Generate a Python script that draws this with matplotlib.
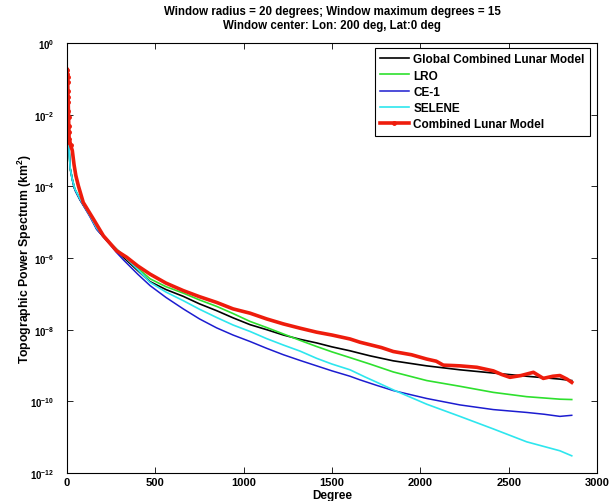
import matplotlib
matplotlib.use("Agg")
import matplotlib.pyplot as plt
import numpy as np

plt.rcParams['font.family'] = ['Liberation Sans', 'DejaVu Sans']
plt.rcParams['mathtext.fontset'] = 'custom'
plt.rcParams['mathtext.rm'] = 'Liberation Sans:bold'
plt.rcParams['mathtext.bf'] = 'Liberation Sans:bold'

# values, log10 of the power spectrum (km^2)
deg_combined = [1, 2, 3, 4, 5, 6, 7, 8, 9, 10, 11, 12, 13, 20, 30, 40, 50, 64, 92,
                149, 206, 281, 338, 400, 470, 560, 658, 750, 847, 940, 1036, 1130,
                1225, 1320, 1413, 1500, 1602, 1658, 1715, 1780, 1847, 1950, 2036,
                2090, 2130, 2180, 2224, 2320, 2413, 2460, 2507, 2570, 2640, 2696,
                2750, 2790, 2830, 2857]
log_combined = [-0.74, -0.87, -0.96, -1.10, -1.33, -1.52, -1.66, -1.89, -2.07, -2.31,
                -2.49, -2.68, -2.77, -2.85, -3.00, -3.40, -3.70, -3.98, -4.45, -4.91,
                -5.38, -5.80, -5.98, -6.22, -6.45, -6.70, -6.91, -7.08, -7.24, -7.42,
                -7.54, -7.70, -7.84, -7.96, -8.07, -8.15, -8.26, -8.35, -8.42, -8.50,
                -8.61, -8.70, -8.82, -8.88, -8.99, -9.00, -9.01, -9.05, -9.15, -9.25,
                -9.33, -9.28, -9.19, -9.36, -9.30, -9.28, -9.38, -9.47]

deg_global = [2, 5, 10, 18, 30, 40, 50, 74, 130, 168, 243, 319, 400, 470, 560, 658,
              750, 847, 940, 1036, 1130, 1225, 1320, 1413, 1500, 1602, 1658, 1715,
              1847, 2036, 2224, 2413, 2602, 2790, 2857]
log_global = [-1.20, -2.00, -2.80, -3.50, -3.80, -4.03, -4.15, -4.38, -4.82, -5.19,
              -5.61, -5.98, -6.35, -6.66, -6.88, -7.07, -7.28, -7.47, -7.67, -7.86,
              -8.00, -8.15, -8.27, -8.37, -8.48, -8.59, -8.66, -8.73, -8.87, -9.01,
              -9.12, -9.21, -9.30, -9.38, -9.42]

deg_lro = [2, 5, 10, 18, 30, 45, 74, 130, 168, 243, 319, 400, 470, 560, 658, 750,
           847, 940, 1036, 1130, 1225, 1320, 1413, 1500, 1602, 1715, 1847, 2036,
           2224, 2413, 2602, 2790, 2857]
log_lro = [-1.40, -2.10, -2.85, -3.50, -3.80, -4.08, -4.35, -4.80, -5.15, -5.58,
           -5.93, -6.28, -6.58, -6.80, -6.98, -7.17, -7.35, -7.55, -7.77, -7.94,
           -8.12, -8.30, -8.47, -8.62, -8.78, -8.96, -9.18, -9.42, -9.58, -9.75,
           -9.87, -9.94, -9.95]

deg_ce1 = [2, 5, 10, 18, 30, 45, 74, 130, 168, 243, 281, 319, 400, 470, 560, 658,
           750, 847, 940, 1036, 1130, 1225, 1320, 1413, 1500, 1602, 1658, 1750,
           1847, 2036, 2224, 2413, 2602, 2700, 2790, 2857]
log_ce1 = [-1.40, -2.10, -2.85, -3.50, -3.82, -4.10, -4.38, -4.85, -5.20, -5.62,
           -5.85, -6.05, -6.45, -6.77, -7.10, -7.42, -7.70, -7.95, -8.15, -8.33,
           -8.52, -8.70, -8.86, -9.01, -9.15, -9.30, -9.40, -9.55, -9.70, -9.92,
           -10.10, -10.23, -10.31, -10.36, -10.42, -10.39]

deg_selene = [2, 5, 10, 18, 30, 45, 74, 130, 168, 243, 319, 400, 470, 560, 658, 750,
              847, 940, 1036, 1130, 1225, 1320, 1413, 1500, 1602, 1687, 1750, 1847,
              2036, 2224, 2413, 2602, 2790, 2857]
log_selene = [-1.40, -2.10, -2.85, -3.50, -3.81, -4.08, -4.36, -4.82, -5.17, -5.58,
              -5.93, -6.32, -6.68, -6.95, -7.19, -7.43, -7.66, -7.87, -8.05, -8.25,
              -8.43, -8.60, -8.80, -8.96, -9.12, -9.32, -9.46, -9.68, -10.08, -10.42,
              -10.77, -11.13, -11.38, -11.52]

x_ticks = [0, 500, 1000, 1500, 2000, 2500, 3000]
y_exps = [0, -2, -4, -6, -8, -10, -12]


def main():
    fig = plt.figure(figsize=(6.16, 5.02), dpi=100)
    ax = fig.add_axes([67 / 616, 28 / 502, 530 / 616, 430 / 502])

    ax.plot(deg_global, 10.0 ** np.array(log_global), color='k', lw=1.2,
            label='Global Combined Lunar Model')
    ax.plot(deg_lro, 10.0 ** np.array(log_lro), color='#2ee02e', lw=1.2, label='LRO')
    ax.plot(deg_ce1, 10.0 ** np.array(log_ce1), color='#1c1cd0', lw=1.1, label='CE-1')
    ax.plot(deg_selene, 10.0 ** np.array(log_selene), color='#2ee6ee', lw=1.2,
            label='SELENE')
    ax.plot(deg_combined, 10.0 ** np.array(log_combined), color='#ee1c0c', lw=2.6,
            marker='.', ms=5, markevery=list(range(14)), label='Combined Lunar Model')

    ax.set_yscale('log')
    ax.set_xlim(0, 3000)
    ax.set_ylim(1e-12, 1e0)
    ax.set_xticks(x_ticks)
    ax.set_xticklabels([str(t) for t in x_ticks], fontweight='bold', fontsize=8)
    ax.set_yticks([10.0 ** e for e in y_exps])
    ax.set_yticklabels(['$10^{%d}$' % e for e in y_exps], fontsize=7)
    ax.minorticks_off()
    ax.tick_params(direction='in', length=4, width=0.6, top=True, right=True)
    ax.tick_params(axis='x', pad=3)
    ax.tick_params(axis='y', pad=9)
    for sp in ax.spines.values():
        sp.set_linewidth(0.8)

    ax.set_xlabel('Degree', fontweight='bold', fontsize=8.5, labelpad=1.5)
    ax.set_ylabel('Topographic Power Spectrum (km$^{2}$)', fontweight='bold',
                  fontsize=8.8)
    ax.yaxis.set_label_coords(-0.062, 0.5)

    fig.text(332 / 616, 1 - 12.5 / 502,
             'Window radius = 20 degrees; Window maximum degrees = 15',
             ha='center', va='center', fontweight='bold', fontsize=8.3)
    fig.text(332 / 616, 1 - 25.5 / 502, 'Window center: Lon: 200 deg, Lat:0 deg',
             ha='center', va='center', fontweight='bold', fontsize=8.3)

    leg = ax.legend(loc='upper right', bbox_to_anchor=(0.9868, 0.9884),
                    borderaxespad=0, fancybox=False, framealpha=1,
                    edgecolor='k', labelspacing=0.36,
                    handlelength=2.4, handletextpad=0.4, borderpad=0.45,
                    numpoints=1, prop={'weight': 'bold', 'size': 8.5})
    leg.get_frame().set_linewidth(0.8)

    fig.savefig('out.png', dpi=100)


if __name__ == '__main__':
    main()
